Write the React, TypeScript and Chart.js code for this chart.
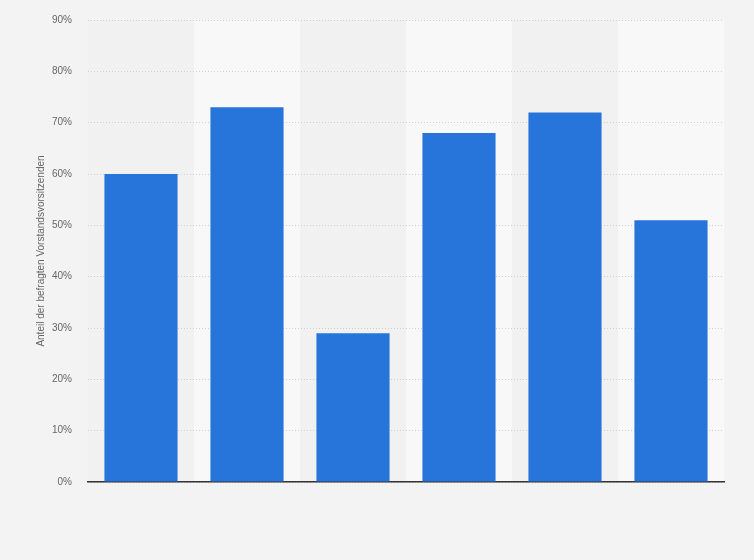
import { useEffect, useRef } from "react";
import { Chart, registerables } from "chart.js";
Chart.register(...registerables);

const categories = ["1", "2", "3", "4", "5", "6"];
const shares = [60, 73, 29, 68, 72, 51];
const yTicks = [0, 10, 20, 30, 40, 50, 60, 70, 80, 90];
const yTitle = "Anteil der befragten Vorstandsvorsitzenden";

// alternating column bands, painted before the grid so the dotted lines stay on top
const bandPlugin = {
  id: "bands",
  beforeDraw(chart: any) {
    const { ctx, chartArea, scales } = chart;
    const x = scales.x;
    const step = (chartArea.right - chartArea.left) / categories.length;
    ctx.save();
    categories.forEach((_, i) => {
      const left = x.getPixelForValue(i) - step / 2;
      ctx.fillStyle = i % 2 === 0 ? "#f1f1f1" : "#f8f8f8";
      ctx.fillRect(left, chartArea.top, step, chartArea.bottom - chartArea.top);
    });
    ctx.restore();
  },
};

const BarChart = () => {
  const chartRef = useRef<HTMLCanvasElement | null>(null);

  useEffect(() => {
    if (!chartRef.current) return;
    const ctx = chartRef.current.getContext("2d");
    if (!ctx) return;
    const chart = new Chart(ctx, {
      type: "bar",
      data: {
        labels: categories,
        datasets: [
          {
            data: shares,
            backgroundColor: "#2775db",
            borderWidth: 0,
            barPercentage: 0.69,
            categoryPercentage: 1,
          },
        ],
      },
      plugins: [bandPlugin],
      options: {
        animation: false,
        responsive: true,
        maintainAspectRatio: false,
        layout: { padding: { top: 20, right: 30, bottom: 78, left: 35 } },
        plugins: { legend: { display: false }, tooltip: { enabled: false } },
        scales: {
          x: {
            grid: { display: false, drawTicks: false },
            border: { display: true, color: "#333333", width: 1.5 },
            ticks: { display: false },
          },
          y: {
            min: 0,
            max: 90,
            afterFit: (scale: any) => {
              scale.width = 53;
              scale.paddingTop = 0;
              scale.paddingBottom = 0;
            },
            afterBuildTicks: (scale: any) => {
              scale.ticks = yTicks.map((v) => ({ value: v }));
            },
            border: { display: false, dash: [1, 2] },
            grid: { color: "#cfcfcf", drawTicks: false, lineWidth: 1 },
            ticks: {
              padding: 16,
              color: "#666666",
              font: { family: "Liberation Sans, Arial", size: 10 },
              callback: (v: any) => `${v}%`,
            },
            title: {
              display: true,
              text: yTitle,
              color: "#666666",
              font: { family: "Liberation Sans, Arial", size: 10 },
              padding: { top: 0, bottom: 0 },
            },
          },
        },
      },
    });
    return () => chart.destroy();
  }, []);

  return (
    <div
      style={{
        position: "fixed",
        left: 0,
        top: 0,
        width: "754px",
        height: "560px",
        background: "#f3f3f3",
      }}
    >
      <canvas ref={chartRef}></canvas>
    </div>
  );
};

export default function App() {
  return <BarChart />;
}
